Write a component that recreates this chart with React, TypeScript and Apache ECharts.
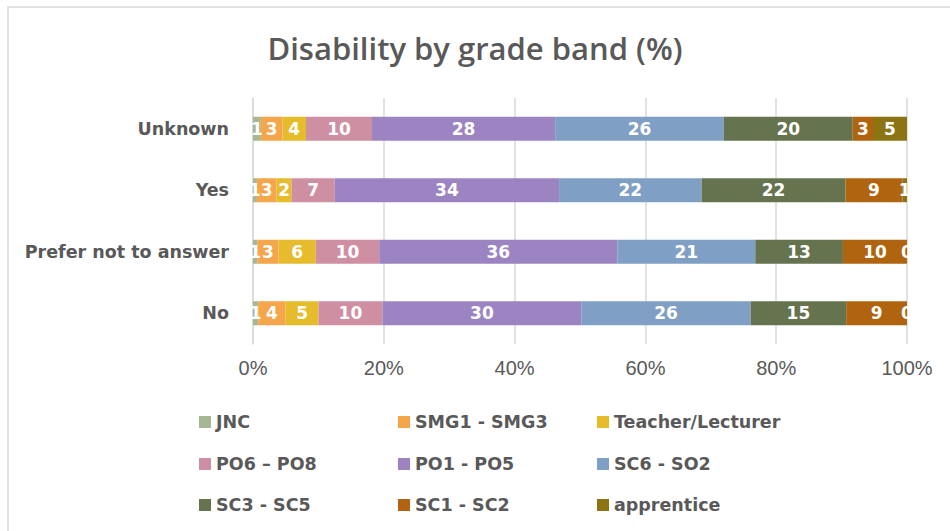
import React, { useEffect, useRef } from "react";
import * as echarts from "echarts";

const categories = ["No", "Prefer not to answer", "Yes", "Unknown"];
const seriesNames = [
  "JNC",
  "SMG1 - SMG3",
  "Teacher/Lecturer",
  "PO6 – PO8",
  "PO1 - PO5",
  "SC6 - SO2",
  "SC3 - SC5",
  "SC1 - SC2",
  "apprentice",
];
const jnc = [0.8, 0.7, 0.6, 1.2];
const smg = [4.2, 3.2, 3.0, 3.3];
const teacher = [5.0, 5.7, 2.3, 3.6];
const po6 = [9.8, 9.7, 6.6, 10.1];
const po1 = [30.4, 36.4, 34.3, 28.0];
const sc6 = [25.9, 21.1, 21.8, 25.8];
const sc3 = [14.6, 13.4, 22.0, 19.7];
const sc1 = [9.3, 9.8, 8.7, 3.1];
const apprentice = [0, 0, 0.7, 5.2];
const xTicks = [0, 20, 40, 60, 80, 100];

const seriesValues = [jnc, smg, teacher, po6, po1, sc6, sc3, sc1, apprentice];
const colors = [
  "#a5b893",
  "#f5a54a",
  "#e6bb2c",
  "#cf8fa3",
  "#9c84c2",
  "#7fa0c4",
  "#65744f",
  "#b1640f",
  "#8c7413",
];

const GRAY = "#595959";
const LABEL_FONT = "DejaVu Sans";

export default function App() {
  const ref = useRef<HTMLDivElement>(null);
  useEffect(() => {
    if (!ref.current) return;
    const chart = echarts.init(ref.current, undefined, { renderer: "svg" });
    const legendRow = (names: string[], top: number) => ({
      data: names,
      left: 199,
      top,
      padding: 0,
      orient: "horizontal",
      itemWidth: 12,
      itemHeight: 12,
      itemGap: 0,
      icon: "rect",
      selectedMode: false,
      textStyle: {
        color: GRAY,
        fontFamily: LABEL_FONT,
        fontWeight: "bold",
        fontSize: 17.5,
        width: 182,
        lineHeight: 20,
      },
    });
    chart.setOption({
      animation: false,
      backgroundColor: "#ffffff",
      color: colors,
      title: {
        text: "Disability by grade band (%)",
        left: "center",
        top: 27,
        textStyle: {
          color: GRAY,
          fontFamily: "Open Sans",
          fontWeight: 600,
          fontSize: 31,
        },
      },
      graphic: [
        {
          type: "rect",
          shape: { x: 8, y: 7, width: 960, height: 560 },
          style: { fill: "none", stroke: "#d9d9d9", lineWidth: 1.5 },
          silent: true,
        },
      ],
      legend: [
        legendRow(seriesNames.slice(0, 3), 412),
        legendRow(seriesNames.slice(3, 6), 454),
        legendRow(seriesNames.slice(6, 9), 495),
      ],
      grid: { left: 253, right: 43, top: 98, height: 246, containLabel: false },
      xAxis: {
        type: "value",
        min: 0,
        max: 100,
        interval: 20,
        axisLine: { show: false },
        axisTick: { show: false },
        splitLine: { show: true, lineStyle: { color: "#d9d9d9", width: 1.5 } },
        axisLabel: {
          formatter: (v: number) => (xTicks.includes(v) ? `${v}%` : ""),
          color: GRAY,
          fontFamily: "Liberation Sans",
          fontSize: 20,
          margin: 14,
        },
      },
      yAxis: {
        type: "category",
        data: categories,
        axisLine: { show: true, lineStyle: { color: "#d9d9d9", width: 1.5 } },
        axisTick: { show: false },
        axisLabel: {
          color: GRAY,
          fontFamily: LABEL_FONT,
          fontWeight: "bold",
          fontSize: 17.5,
          margin: 24,
        },
      },
      series: seriesNames.map((name, i) => ({
        name,
        type: "bar",
        stack: "total",
        data: seriesValues[i],
        barWidth: 24,
        itemStyle: { color: colors[i] },
        label: {
          show: true,
          position: "inside",
          color: "#ffffff",
          fontFamily: LABEL_FONT,
          fontWeight: "bold",
          fontSize: 17,
          formatter: (p: any) => String(Math.round(p.value)),
        },
      })),
    });
    return () => chart.dispose();
  }, []);
  return (
    <div
      ref={ref}
      style={{ position: "fixed", left: 0, top: 0, width: 950, height: 531 }}
    />
  );
}
